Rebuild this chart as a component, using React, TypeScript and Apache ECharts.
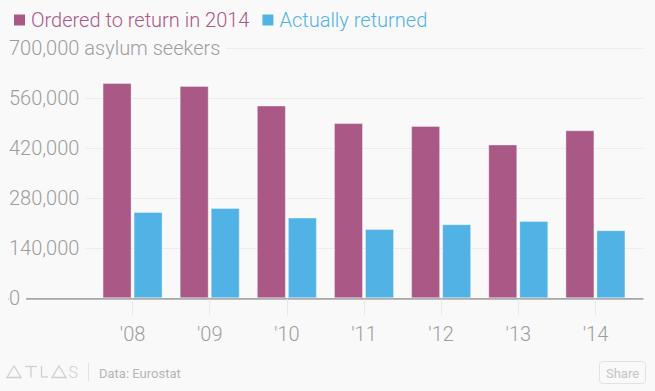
import React, { useEffect, useRef } from "react";
import * as echarts from "echarts";

const categories = ["'08", "'09", "'10", "'11", "'12", "'13", "'14"];
const orderedToReturn = [602000, 594000, 539000, 490000, 482000, 430000, 470000];
const actuallyReturned = [241600, 252800, 225700, 194000, 207200, 216400, 190400];
const seriesNames = ["Ordered to return in 2014", "Actually returned"];
const seriesColors = ["#aa5886", "#51b2e5"];
const yMin = 0;
const yMax = 700000;
const yInterval = 140000;
const yUnit = "asylum seekers";
const sourceText = "Data: Eurostat";

const FONT = "Roboto, 'Liberation Sans', sans-serif";
const GRAY = "#9d9d9d";
const LOGO = "#d3cec9";

export default function App() {
  const ref = useRef<HTMLDivElement>(null);
  useEffect(() => {
    document.body.style.margin = "0";
    document.body.style.background = "#f9f9f9";
    const chart = echarts.init(ref.current!, null, { renderer: "svg" });
    const fmt = (v: number) => v.toLocaleString("en-US");
    chart.setOption({
      animation: false,
      backgroundColor: "#f9f9f9",
      textStyle: { fontFamily: FONT, fontWeight: 300 },
      legend: {
        left: 9,
        top: 5,
        itemWidth: 11,
        itemHeight: 11,
        itemGap: 13,
        icon: "rect",
        selectedMode: false,
        data: seriesNames.map((n, i) => ({
          name: n,
          itemStyle: { color: seriesColors[i], borderWidth: 0 },
          textStyle: { color: seriesColors[i] },
        })),
        textStyle: { fontSize: 20, fontFamily: FONT, fontWeight: 300, padding: [0, 0, 0, 1] },
      },
      grid: [
        { left: 94, right: 21, top: 48, bottom: 92.7 },
        { left: 9, right: 12, top: 48, bottom: 92.7 },
      ],
      xAxis: [
        {
          type: "category",
          gridIndex: 0,
          data: categories,
          axisLine: { show: false },
          axisTick: { show: true, alignWithLabel: true, length: 17, lineStyle: { color: "#e8e8e8", width: 1 } },
          axisLabel: { color: GRAY, fontSize: 20, margin: 26, fontFamily: FONT, fontWeight: 300 },
          splitLine: { show: false },
        },
        {
          type: "value",
          gridIndex: 1,
          min: 0,
          max: 1,
          axisLine: { show: true, onZero: false, lineStyle: { color: "#a6a6a6", width: 1.5 } },
          axisTick: { show: false },
          axisLabel: { show: false },
          splitLine: { show: false },
          z: 0,
        },
      ],
      yAxis: [
        {
          type: "value",
          gridIndex: 0,
          min: yMin,
          max: yMax,
          interval: yInterval,
          show: false,
          splitLine: { show: false },
        },
        {
          type: "value",
          gridIndex: 1,
          min: yMin,
          max: yMax,
          interval: yInterval,
          z: 1,
          axisLine: { show: false },
          axisTick: { show: false },
          axisLabel: {
            inside: true,
            margin: 0,
            color: GRAY,
            fontSize: 20,
            fontFamily: FONT,
            fontWeight: 300,
            backgroundColor: "#f9f9f9",
            padding: [2, 6, 2, 0],
            formatter: (v: number) => (v === yMax ? `${fmt(v)} ${yUnit}` : fmt(v)),
          },
          splitLine: {
            show: true,
            lineStyle: { color: ["#a6a6a6", "#ececec", "#ececec", "#ececec", "#ececec", "#ececec"], width: 1 },
          },
        },
      ],
      series: [
        {
          name: seriesNames[0],
          type: "bar",
          xAxisIndex: 0,
          yAxisIndex: 0,
          data: orderedToReturn,
          barWidth: 29,
          barGap: "7%",
          itemStyle: { color: seriesColors[0], borderColor: "rgba(255,255,255,0.35)", borderWidth: 1 },
          z: 2,
        },
        {
          name: seriesNames[1],
          type: "bar",
          xAxisIndex: 0,
          yAxisIndex: 0,
          data: actuallyReturned,
          barWidth: 29,
          barGap: "7%",
          itemStyle: { color: seriesColors[1], borderColor: "rgba(255,255,255,0.35)", borderWidth: 1 },
          z: 2,
        },
      ],
      graphic: [
        { type: "polygon", shape: { points: [[7, 377.5], [14, 366], [21, 377.5]] }, style: { fill: "none", stroke: LOGO, lineWidth: 1.3 } },
        { type: "line", shape: { x1: 25, y1: 366.5, x2: 37, y2: 366.5 }, style: { stroke: LOGO, lineWidth: 1.3 } },
        { type: "line", shape: { x1: 31, y1: 366.5, x2: 31, y2: 377.5 }, style: { stroke: LOGO, lineWidth: 1.3 } },
        { type: "line", shape: { x1: 41.5, y1: 366, x2: 41.5, y2: 377 }, style: { stroke: LOGO, lineWidth: 1.3 } },
        { type: "line", shape: { x1: 41.5, y1: 377, x2: 48, y2: 377 }, style: { stroke: LOGO, lineWidth: 1.3 } },
        { type: "polygon", shape: { points: [[52, 377.5], [59, 366], [66, 377.5]] }, style: { fill: "none", stroke: LOGO, lineWidth: 1.3 } },
        { type: "text", x: 68.5, y: 372, style: { text: "S", fill: LOGO, font: `300 16px ${FONT}`, textVerticalAlign: "middle" } },
        { type: "line", shape: { x1: 88.5, y1: 363, x2: 88.5, y2: 381 }, style: { stroke: "#e2e2e2", lineWidth: 1 } },
        { type: "text", x: 99, y: 373, style: { text: sourceText, fill: "#b5b5b5", font: `13px ${FONT}`, textVerticalAlign: "middle" } },
        { type: "rect", shape: { x: 599.5, y: 361.5, width: 46, height: 22, r: 3 }, style: { fill: "none", stroke: "#e2e2e2", lineWidth: 1 } },
        { type: "text", x: 622.5, y: 373, style: { text: "Share", fill: "#c4c4c4", font: `13px ${FONT}`, textAlign: "center", textVerticalAlign: "middle" } },
      ],
    });
    return () => chart.dispose();
  }, []);
  return (
    <div style={{ position: "fixed", left: 0, top: 0, width: 655, height: 391, background: "#f9f9f9" }}>
      <div ref={ref} style={{ width: 655, height: 391 }} />
    </div>
  );
}
